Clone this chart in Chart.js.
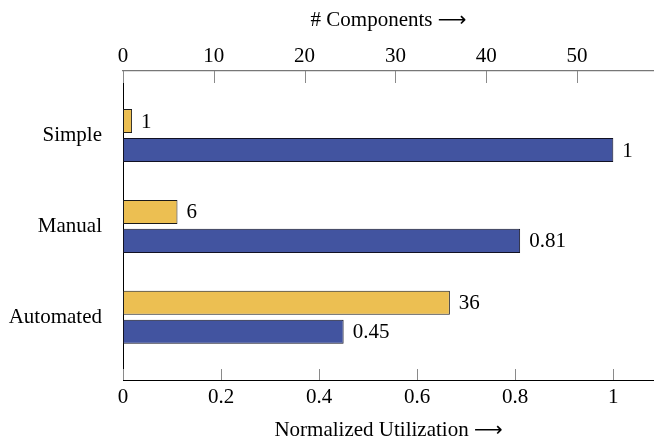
<!DOCTYPE html>
<html>
<head>
<meta charset="utf-8">
<script src="https://cdn.jsdelivr.net/npm/chart.js@4"></script>
<style>
  body { margin: 0; background: #fff; }
  canvas { display: block; }
</style>
</head>
<body>
<canvas id="chart" width="654" height="443"></canvas>
<script>
const categories = ['Simple', 'Manual', 'Automated'];
const components = [1, 6, 36];
const utilization = [1, 0.81, 0.45];
const componentTicks = [0, 10, 20, 30, 40, 50];
const utilizationTicks = [0, 0.2, 0.4, 0.6, 0.8, 1];
const topTitle = '# Components';
const bottomTitle = 'Normalized Utilization';

const FONT = '"Liberation Serif", "Times New Roman", serif';
const utilMax = 1.083;
const compMax = 54 * utilMax; // top axis: 54 components == 1.0

// short tick marks pointing into the plot, like pgfplots
const innerTicks = {
  id: 'innerTicks',
  beforeDatasetsDraw(chart) {
    const ctx = chart.ctx;
    const area = chart.chartArea;
    ctx.save();
    ctx.strokeStyle = '#8a8a8a';
    ctx.lineWidth = 1;
    ['x', 'x2'].forEach(id => {
      const scale = chart.scales[id];
      scale.ticks.forEach(t => {
        const px = Math.round(scale.getPixelForValue(t.value)) + 0.5;
        ctx.beginPath();
        if (id === 'x') {
          ctx.moveTo(px, area.bottom);
          ctx.lineTo(px, area.bottom - 11);
        } else {
          ctx.moveTo(px, area.top);
          ctx.lineTo(px, area.top + 12);
        }
        ctx.stroke();
      });
    });
    ctx.restore();
  }
};

// axis titles with a long arrow (drawn in a font that has the glyph)
function drawTitle(ctx, text, cx, cy) {
  ctx.font = '21px ' + FONT;
  const w1 = ctx.measureText(text + ' ').width;
  ctx.font = '20px "DejaVu Sans"';
  const w2 = ctx.measureText('\u27F6').width;
  let x = cx - (w1 + w2) / 2;
  ctx.font = '21px ' + FONT;
  ctx.fillText(text + ' ', x, cy);
  ctx.font = '20px "DejaVu Sans"';
  ctx.fillText('\u27F6', x + w1, cy + 1);
}

const axisTitles = {
  id: 'axisTitles',
  afterDraw(chart) {
    const ctx = chart.ctx;
    const area = chart.chartArea;
    const cx = (area.left + area.right) / 2;
    ctx.save();
    ctx.fillStyle = '#000';
    ctx.textAlign = 'left';
    ctx.textBaseline = 'middle';
    drawTitle(ctx, topTitle, cx, chart.scales.x2.top + 20);
    drawTitle(ctx, bottomTitle, cx, chart.scales.x.bottom - 13);
    ctx.restore();
  }
};

const valueLabels = {
  id: 'valueLabels',
  afterDatasetsDraw(chart) {
    const ctx = chart.ctx;
    ctx.save();
    ctx.font = '21px ' + FONT;
    ctx.fillStyle = '#000';
    ctx.textAlign = 'left';
    ctx.textBaseline = 'middle';
    chart.data.datasets.forEach((ds, i) => {
      const meta = chart.getDatasetMeta(i);
      meta.data.forEach((bar, j) => {
        ctx.fillText(String(ds.data[j].x), bar.x + 9, bar.y + 1);
      });
    });
    ctx.restore();
  }
};

new Chart(document.getElementById('chart'), {
  type: 'bar',
  data: {
    datasets: [
      {
        label: topTitle,
        data: components.map((v, i) => ({ x: v, y: i })),
        xAxisID: 'x2',
        backgroundColor: '#ecbf52',
        borderColor: '#1a1a1a',
        borderWidth: 1,
        borderSkipped: false,
      },
      {
        label: bottomTitle,
        data: utilization.map((v, i) => ({ x: v, y: i })),
        xAxisID: 'x',
        backgroundColor: '#4254a0',
        borderColor: '#111122',
        borderWidth: 1,
        borderSkipped: false,
      },
    ],
  },
  options: {
    indexAxis: 'y',
    responsive: false,
    animation: false,
    devicePixelRatio: 1,
    categoryPercentage: 0.637,
    barPercentage: 0.83,
    layout: { padding: 0 },
    plugins: {
      legend: { display: false },
      tooltip: { enabled: false },
    },
    scales: {
      y: {
        type: 'linear',
        reverse: true,
        offset: false,
        min: -0.71,
        max: 2.69,
        afterBuildTicks: s => { s.ticks = categories.map((c, i) => ({ value: i })); },
        afterFit: s => { s.width = 123; },
        ticks: {
          callback: v => categories[v],
          color: '#000',
          font: { family: FONT, size: 21 },
          padding: 21,
        },
        grid: { display: false, drawTicks: false, offset: false },
        border: { display: true, color: '#000', width: 1 },
      },
      x: {
        type: 'linear',
        position: 'bottom',
        min: 0,
        max: utilMax,
        afterBuildTicks: s => { s.ticks = utilizationTicks.map(v => ({ value: v })); },
        afterFit: s => { s.height = 63; },
        ticks: {
          callback: v => String(v),
          color: '#000',
          font: { family: FONT, size: 21 },
          padding: 5,
          maxRotation: 0,
        },
        grid: { display: false, drawTicks: false },
        border: { display: true, color: '#000', width: 1 },
      },
      x2: {
        type: 'linear',
        position: 'top',
        min: 0,
        max: compMax,
        afterBuildTicks: s => { s.ticks = componentTicks.map(v => ({ value: v })); },
        afterFit: s => { s.height = 71; },
        ticks: {
          callback: v => String(v),
          color: '#000',
          font: { family: FONT, size: 21 },
          padding: 2,
          maxRotation: 0,
        },
        grid: { display: false, drawTicks: false },
        border: { display: true, color: '#777', width: 1.3 },
      },
    },
  },
  plugins: [innerTicks, axisTitles, valueLabels],
});
</script>
</body>
</html>
